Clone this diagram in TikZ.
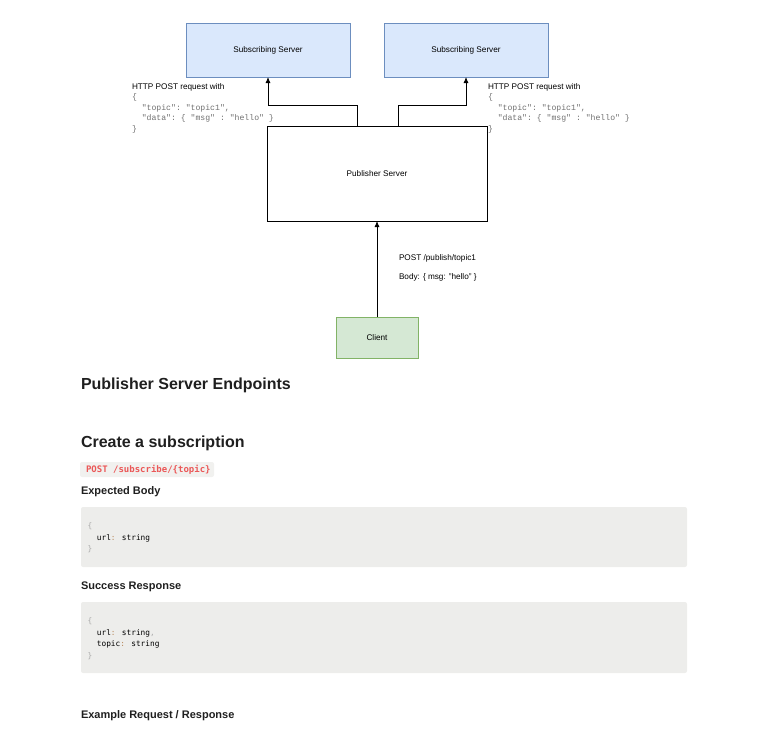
\documentclass[tikz,border=0pt]{standalone}
\usepackage{fontspec}
\usetikzlibrary{arrows.meta}
\setmainfont{Liberation Sans}
\setmonofont{Liberation Mono}
\newfontfamily\codefont{DejaVu Sans Mono}
\definecolor{subfill}{HTML}{DAE8FC}
\definecolor{subline}{HTML}{6C8EBF}
\definecolor{clifill}{HTML}{D5E8D4}
\definecolor{cliline}{HTML}{82B366}
\definecolor{jsongray}{HTML}{707070}
\definecolor{codebg}{HTML}{EDEDEB}
\definecolor{chipbg}{HTML}{F1F1EF}
\definecolor{chipred}{HTML}{EB5757}
\definecolor{headink}{HTML}{1F1F1F}
\definecolor{bracegray}{HTML}{ABABAB}
\definecolor{colonink}{HTML}{B8875A}

\begin{document}
\begin{tikzpicture}[x=1pt, y=-1pt, every node/.style={outer sep=0pt},
  subbox/.style={draw=subline, fill=subfill, minimum width=164pt, minimum height=54pt, font=\fontsize{8.2}{10}\selectfont},
  pubbox/.style={draw=black, fill=white, minimum width=220pt, minimum height=95pt, font=\fontsize{8.2}{10}\selectfont},
  clibox/.style={draw=cliline, fill=clifill, minimum width=82pt, minimum height=41pt, font=\fontsize{8.2}{10}\selectfont},
  lbl/.style={anchor=west, inner sep=0pt, font=\fontsize{8.2}{10}\selectfont},
  json/.style={anchor=north west, inner sep=0pt, align=left, text=jsongray, font=\ttfamily\fontsize{8.15}{10.4}\selectfont},
  conn/.style={draw=black, line width=0.8pt, -{Latex[length=6pt,width=5pt]}},
  head/.style={anchor=west, inner sep=0pt, text=headink, font=\bfseries\fontsize{16}{18}\selectfont},
  subhead/.style={anchor=west, inner sep=0pt, text=headink, font=\bfseries\fontsize{11}{13}\selectfont},
  codebox/.style={fill=codebg, rounded corners=2pt, minimum width=606pt, inner sep=0pt},
  code/.style={anchor=north west, inner sep=0pt, align=left, font=\codefont\fontsize{7.8}{11.5}\selectfont}]
\useasboundingbox (0,0) rectangle (774,737);

% diagram
\node[subbox] (sub1) at (268,50) {Subscribing Server};
\node[subbox] (sub2) at (466,50) {Subscribing Server};
\node[pubbox] (pub) at (377,173.5) {Publisher Server};
\node[clibox] (cli) at (377,337.5) {Client};

\draw[conn] (cli) -- (pub);
\draw[conn] ([xshift=-20pt]pub.north) -- ++(0,-21) -| (sub1.south);
\draw[conn] ([xshift=21pt]pub.north) -- ++(0,-21) -| (sub2.south);

\node[lbl] (req1) at (132,87.5) {HTTP POST request with};
\node[json] (json1) at (132,94) {\{\\\hphantom{xx}"topic": "topic1",\\\hphantom{xx}"data": \{ "msg" : "hello" \}\\\}};
\node[lbl] (req2) at (488,87.5) {HTTP POST request with};
\node[json] (json2) at (488,94) {\{\\\hphantom{xx}"topic": "topic1",\\\hphantom{xx}"data": \{ "msg" : "hello" \}\\\}};

\node[lbl] (pubreq) at (399,258.5) {POST /publish/topic1};
\node[lbl] (pubbody) at (399,277.5) {Body: \{ msg: "hello" \}};

% endpoints
\node[head] (endpts) at (81,385.5) {Publisher Server Endpoints};
\node[head] (create) at (81,443.5) {Create a subscription};
\node[fill=chipbg, rounded corners=2pt, minimum width=134pt, minimum height=15pt, inner sep=0pt] (chip) at (147,469.5) {};
\node[anchor=west, inner sep=0pt, text=chipred, font=\codefont\bfseries\fontsize{9}{11}\selectfont] (route) at (86,469.5) {POST /subscribe/\{topic\}};

\node[subhead] (expbody) at (81,491.5) {Expected Body};
\node[codebox, minimum height=60pt] (body1) at (384,537) {};
\node[code] (code1) at (87.5,523) {\textcolor{bracegray}{\{}\\\hphantom{xx}url\textcolor{colonink}{:} string\\\textcolor{bracegray}{\}}};

\node[subhead] (succ) at (81,586.5) {Success Response};
\node[codebox, minimum height=71pt] (body2) at (384,637.5) {};
\node[code] (code2) at (87.5,618) {\textcolor{bracegray}{\{}\\\hphantom{xx}url\textcolor{colonink}{:} string\textcolor{bracegray}{,}\\\hphantom{xx}topic\textcolor{colonink}{:} string\\\textcolor{bracegray}{\}}};

\node[subhead] (example) at (81,715.5) {Example Request / Response};
\end{tikzpicture}
\end{document}
